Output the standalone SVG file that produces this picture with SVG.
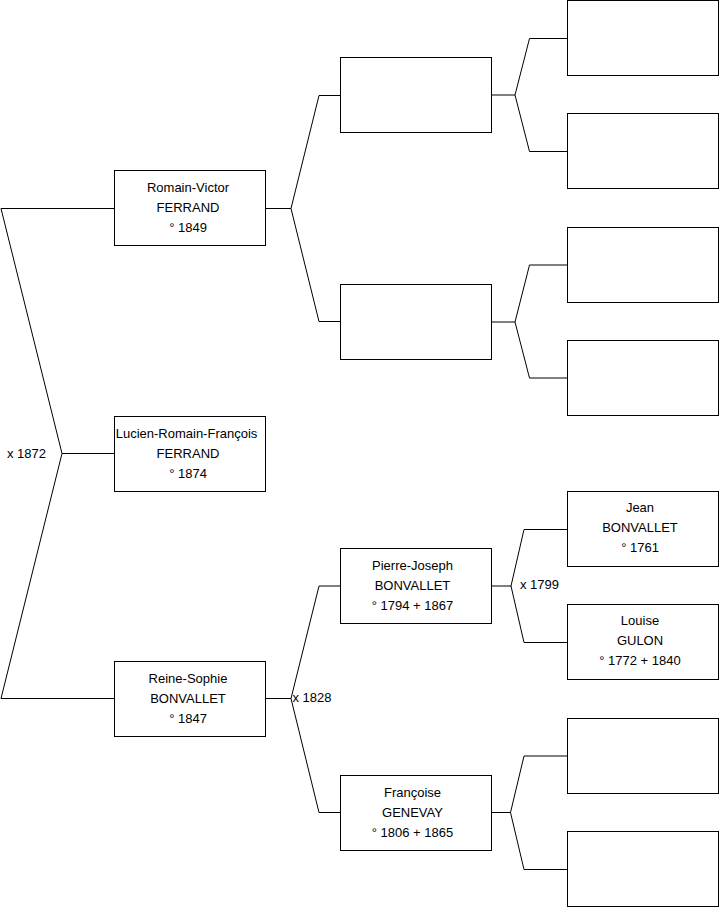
<svg xmlns="http://www.w3.org/2000/svg" width="719" height="908" viewBox="0 0 719 908">
<style>
.box{fill:#fff;stroke:#000;stroke-width:1}
.c{fill:none;stroke:#000;stroke-width:1}
text{font-family:"Liberation Sans",Arial,sans-serif;font-size:13px;fill:#000}
.m{text-anchor:middle}
</style>
<rect width="719" height="908" fill="#fff"/>
<g id="connectors">
<path class="c" d="M114 208.5 H1 L62 453.5 L1 698.5 H114 M62 453.5 H114"/>
<path class="c" d="M265 208.5 H291 M340 95.5 H319 L291 208.5 L319 321.5 H340"/>
<path class="c" d="M265 698.5 H291 M340 586 H319 L291 698.5 L319 812.5 H340"/>
<path class="c" d="M492 95 H515 M567 38.5 H529.5 L515 95 L529.5 151.5 H567"/>
<path class="c" d="M492 322 H515 M567 265 H529.5 L515 322 L529.5 378 H567"/>
<path class="c" d="M492 586 H511 M567 529.5 H524 L511 586 L524 642.5 H567"/>
<path class="c" d="M492 812.5 H510.5 M567 756 H524 L510.5 812.5 L524 869.5 H567"/>
<text x="7" y="457.5">x 1872</text>
<text x="292.5" y="702">x 1828</text>
<text x="520" y="589">x 1799</text>
</g>
<g id="n-lucien"><rect class="box" x="114.5" y="416.5" width="151" height="75"/>
<text class="m" x="186.5" y="437.5">Lucien-Romain-François</text><text class="m" x="188" y="457.5">FERRAND</text><text class="m" x="188" y="477.5">° 1874</text></g>
<g id="n-romain"><rect class="box" x="114.5" y="170.5" width="151" height="75"/>
<text class="m" x="188" y="191.5">Romain-Victor</text><text class="m" x="188" y="211.5">FERRAND</text><text class="m" x="188" y="231.5">° 1849</text></g>
<g id="n-reine"><rect class="box" x="114.5" y="661.5" width="151" height="75"/>
<text class="m" x="188" y="682.5">Reine-Sophie</text><text class="m" x="188" y="702.5">BONVALLET</text><text class="m" x="188" y="722.5">° 1847</text></g>
<g id="n-f1"><rect class="box" x="340.5" y="57.5" width="151" height="75"/></g>
<g id="n-m1"><rect class="box" x="340.5" y="284.5" width="151" height="75"/></g>
<g id="n-pierre"><rect class="box" x="340.5" y="548.5" width="151" height="75"/>
<text class="m" x="412.5" y="569.5">Pierre-Joseph</text><text class="m" x="412.5" y="589.5">BONVALLET</text><text class="m" x="412.5" y="609.5">° 1794 + 1867</text></g>
<g id="n-francoise"><rect class="box" x="340.5" y="775.5" width="151" height="75"/>
<text class="m" x="412.5" y="796.5">Françoise</text><text class="m" x="412.5" y="816.5">GENEVAY</text><text class="m" x="412.5" y="836.5">° 1806 + 1865</text></g>
<g id="n-ff"><rect class="box" x="567.5" y="0.5" width="151" height="75"/></g>
<g id="n-fm"><rect class="box" x="567.5" y="113.5" width="151" height="75"/></g>
<g id="n-mf"><rect class="box" x="567.5" y="227.5" width="151" height="75"/></g>
<g id="n-mm"><rect class="box" x="567.5" y="340.5" width="151" height="75"/></g>
<g id="n-jean"><rect class="box" x="567.5" y="491.5" width="151" height="75"/>
<text class="m" x="640" y="512">Jean</text><text class="m" x="640" y="532">BONVALLET</text><text class="m" x="640" y="552">° 1761</text></g>
<g id="n-louise"><rect class="box" x="567.5" y="604.5" width="151" height="75"/>
<text class="m" x="640" y="625">Louise</text><text class="m" x="640" y="645">GULON</text><text class="m" x="640" y="665">° 1772 + 1840</text></g>
<g id="n-gf"><rect class="box" x="567.5" y="718.5" width="151" height="75"/></g>
<g id="n-gm"><rect class="box" x="567.5" y="831.5" width="151" height="75"/></g>
</svg>
